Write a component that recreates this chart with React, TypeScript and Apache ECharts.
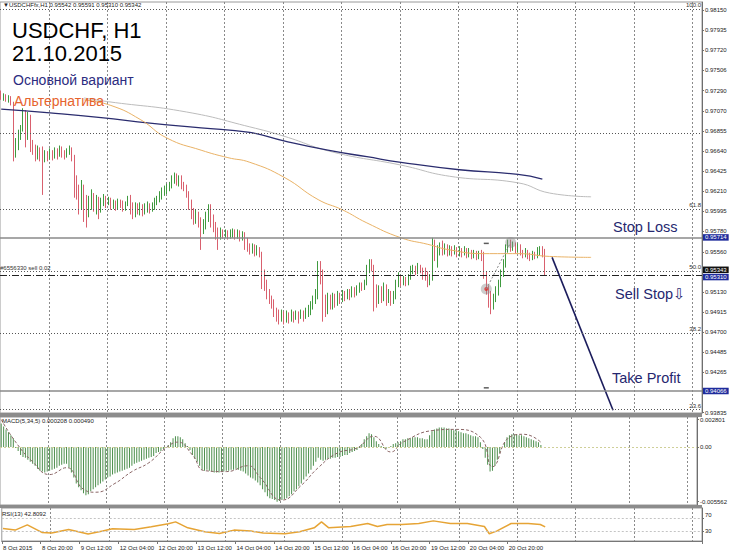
import React, { useEffect, useRef } from 'react';
import * as echarts from 'echarts';

// ---------- axis tick labels ----------
const tickLabels = ['8 Oct 2015', '8 Oct 20:00', '9 Oct 12:00', '12 Oct 04:00', '12 Oct 20:00', '13 Oct 12:00', '14 Oct 04:00', '14 Oct 20:00', '15 Oct 12:00', '16 Oct 04:00', '16 Oct 20:00', '19 Oct 12:00', '20 Oct 04:00', '20 Oct 20:00'];
const BARS_PER_LABEL = 16;
const SLOT_COUNT = 288;
const FIRST_MIDNIGHT = 20;
const BARS_PER_DAY = 24;

// price scale labels visible on the right axis (0.95345 and 0.94050 are covered by the price tags)
const priceTicks = [0.98150, 0.97935, 0.97720, 0.97506, 0.97290, 0.97070, 0.96855, 0.96640, 0.96425, 0.96210, 0.95995, 0.95780, 0.95560, 0.95130, 0.94915, 0.94700, 0.94485, 0.94265, 0.93835];
const macdTicks = [-0.005562, 0, 0.002801];
const rsiTicks = [0, 30, 70, 100];

// ---------- H1 candles: [open, close, high, low] ----------
const candles: number[][] = [
  [0.9724, 0.9721, 0.9729, 0.9719], [0.9721, 0.9723, 0.9726, 0.9718], [0.9723, 0.9719, 0.9725, 0.9717], [0.9719, 0.9721, 0.9724, 0.9716], [0.9721, 0.9715, 0.9723, 0.9713],
  [0.9715, 0.9665, 0.9717, 0.9653], [0.9665, 0.9671, 0.9678, 0.9657], [0.9671, 0.9682, 0.9687, 0.9665], [0.9682, 0.9689, 0.9692, 0.9676], [0.9689, 0.9703, 0.9710, 0.9685],
  [0.9703, 0.9682, 0.9708, 0.9668], [0.9682, 0.9700, 0.9706, 0.9676], [0.9700, 0.9671, 0.9703, 0.9663], [0.9671, 0.9665, 0.9676, 0.9660], [0.9665, 0.9657, 0.9671, 0.9653],
  [0.9657, 0.9665, 0.9670, 0.9655], [0.9665, 0.9660, 0.9668, 0.9653], [0.9663, 0.9655, 0.9669, 0.9617], [0.9655, 0.9660, 0.9665, 0.9652], [0.9660, 0.9657, 0.9664, 0.9653],
  [0.9657, 0.9661, 0.9667, 0.9655], [0.9661, 0.9658, 0.9665, 0.9654], [0.9658, 0.9663, 0.9668, 0.9656], [0.9663, 0.9660, 0.9667, 0.9655], [0.9660, 0.9665, 0.9670, 0.9658],
  [0.9665, 0.9662, 0.9669, 0.9657], [0.9662, 0.9659, 0.9665, 0.9655], [0.9659, 0.9663, 0.9667, 0.9657], [0.9663, 0.9665, 0.9670, 0.9660], [0.9665, 0.9657, 0.9668, 0.9653],
  [0.9657, 0.9633, 0.9660, 0.9614], [0.9633, 0.9617, 0.9638, 0.9612], [0.9617, 0.9612, 0.9628, 0.9596], [0.9612, 0.9623, 0.9633, 0.9601], [0.9623, 0.9607, 0.9628, 0.9588],
  [0.9607, 0.9599, 0.9617, 0.9582], [0.9599, 0.9612, 0.9616, 0.9593], [0.9612, 0.9616, 0.9623, 0.9601], [0.9616, 0.9607, 0.9619, 0.9599], [0.9607, 0.9612, 0.9617, 0.9596],
  [0.9612, 0.9601, 0.9615, 0.9591], [0.9601, 0.9609, 0.9614, 0.9598], [0.9609, 0.9614, 0.9618, 0.9605], [0.9614, 0.9610, 0.9616, 0.9603], [0.9610, 0.9612, 0.9615, 0.9606],
  [0.9612, 0.9607, 0.9614, 0.9601], [0.9607, 0.9609, 0.9612, 0.9602], [0.9609, 0.9606, 0.9611, 0.9600], [0.9606, 0.9610, 0.9613, 0.9601], [0.9610, 0.9608, 0.9612, 0.9603],
  [0.9608, 0.9603, 0.9611, 0.9599], [0.9603, 0.9607, 0.9610, 0.9600], [0.9607, 0.9612, 0.9616, 0.9605], [0.9612, 0.9601, 0.9617, 0.9596], [0.9601, 0.9597, 0.9609, 0.9591],
  [0.9597, 0.9606, 0.9609, 0.9593], [0.9606, 0.9601, 0.9608, 0.9596], [0.9601, 0.9605, 0.9609, 0.9595], [0.9605, 0.9599, 0.9607, 0.9594], [0.9599, 0.9602, 0.9608, 0.9596],
  [0.9602, 0.9606, 0.9610, 0.9598], [0.9606, 0.9601, 0.9608, 0.9597], [0.9601, 0.9605, 0.9609, 0.9599], [0.9605, 0.9610, 0.9614, 0.9601], [0.9610, 0.9612, 0.9616, 0.9606],
  [0.9612, 0.9616, 0.9621, 0.9609], [0.9616, 0.9621, 0.9625, 0.9612], [0.9621, 0.9623, 0.9627, 0.9616], [0.9623, 0.9625, 0.9629, 0.9618], [0.9625, 0.9627, 0.9631, 0.9621],
  [0.9627, 0.9633, 0.9638, 0.9624], [0.9633, 0.9639, 0.9641, 0.9629], [0.9639, 0.9631, 0.9640, 0.9627], [0.9631, 0.9636, 0.9638, 0.9626], [0.9636, 0.9628, 0.9638, 0.9623],
  [0.9628, 0.9625, 0.9631, 0.9621], [0.9625, 0.9617, 0.9628, 0.9614], [0.9617, 0.9607, 0.9621, 0.9601], [0.9607, 0.9599, 0.9612, 0.9591], [0.9599, 0.9593, 0.9603, 0.9585],
  [0.9593, 0.9596, 0.9601, 0.9586], [0.9596, 0.9588, 0.9599, 0.9582], [0.9588, 0.9580, 0.9593, 0.9558], [0.9580, 0.9585, 0.9591, 0.9575], [0.9585, 0.9596, 0.9599, 0.9580],
  [0.9596, 0.9605, 0.9607, 0.9588], [0.9605, 0.9591, 0.9607, 0.9582], [0.9591, 0.9582, 0.9596, 0.9577], [0.9582, 0.9578, 0.9588, 0.9569], [0.9578, 0.9572, 0.9582, 0.9558],
  [0.9572, 0.9578, 0.9582, 0.9569], [0.9578, 0.9575, 0.9580, 0.9570], [0.9575, 0.9577, 0.9580, 0.9571], [0.9577, 0.9573, 0.9579, 0.9569], [0.9573, 0.9576, 0.9580, 0.9570],
  [0.9576, 0.9578, 0.9581, 0.9571], [0.9578, 0.9573, 0.9580, 0.9569], [0.9573, 0.9577, 0.9580, 0.9570], [0.9577, 0.9571, 0.9579, 0.9567], [0.9571, 0.9575, 0.9578, 0.9568],
  [0.9575, 0.9569, 0.9577, 0.9558], [0.9569, 0.9561, 0.9571, 0.9556], [0.9561, 0.9558, 0.9565, 0.9553], [0.9558, 0.9562, 0.9565, 0.9554], [0.9562, 0.9556, 0.9564, 0.9551],
  [0.9556, 0.9558, 0.9563, 0.9552], [0.9558, 0.9553, 0.9561, 0.9550], [0.9553, 0.9532, 0.9556, 0.9516], [0.9532, 0.9521, 0.9537, 0.9514], [0.9521, 0.9510, 0.9526, 0.9505],
  [0.9510, 0.9505, 0.9516, 0.9500], [0.9505, 0.9500, 0.9509, 0.9495], [0.9500, 0.9492, 0.9505, 0.9486], [0.9492, 0.9489, 0.9496, 0.9481], [0.9489, 0.9486, 0.9494, 0.9478],
  [0.9486, 0.9490, 0.9494, 0.9481], [0.9490, 0.9484, 0.9492, 0.9478], [0.9484, 0.9488, 0.9493, 0.9480], [0.9488, 0.9485, 0.9491, 0.9479], [0.9485, 0.9489, 0.9494, 0.9481],
  [0.9489, 0.9486, 0.9492, 0.9480], [0.9486, 0.9490, 0.9493, 0.9483], [0.9490, 0.9487, 0.9492, 0.9479], [0.9487, 0.9491, 0.9494, 0.9484], [0.9491, 0.9488, 0.9493, 0.9481],
  [0.9488, 0.9492, 0.9496, 0.9484], [0.9492, 0.9494, 0.9499, 0.9486], [0.9494, 0.9500, 0.9503, 0.9488], [0.9500, 0.9505, 0.9509, 0.9494], [0.9505, 0.9509, 0.9516, 0.9500],
  [0.9509, 0.9542, 0.9546, 0.9505], [0.9542, 0.9532, 0.9546, 0.9521], [0.9532, 0.9505, 0.9537, 0.9481], [0.9505, 0.9494, 0.9510, 0.9486], [0.9494, 0.9505, 0.9512, 0.9489],
  [0.9505, 0.9500, 0.9510, 0.9494], [0.9500, 0.9507, 0.9512, 0.9494], [0.9507, 0.9503, 0.9511, 0.9496], [0.9503, 0.9509, 0.9514, 0.9498], [0.9509, 0.9505, 0.9512, 0.9500],
  [0.9505, 0.9510, 0.9515, 0.9502], [0.9510, 0.9507, 0.9514, 0.9503], [0.9507, 0.9511, 0.9516, 0.9505], [0.9511, 0.9509, 0.9516, 0.9504], [0.9509, 0.9515, 0.9519, 0.9507],
  [0.9515, 0.9511, 0.9518, 0.9507], [0.9511, 0.9516, 0.9520, 0.9509], [0.9516, 0.9520, 0.9523, 0.9512], [0.9520, 0.9518, 0.9523, 0.9514], [0.9518, 0.9523, 0.9526, 0.9515],
  [0.9523, 0.9537, 0.9542, 0.9520], [0.9537, 0.9545, 0.9548, 0.9533], [0.9545, 0.9539, 0.9548, 0.9535], [0.9539, 0.9516, 0.9542, 0.9492], [0.9516, 0.9505, 0.9521, 0.9496],
  [0.9505, 0.9514, 0.9520, 0.9500], [0.9514, 0.9507, 0.9519, 0.9501], [0.9507, 0.9518, 0.9523, 0.9503], [0.9518, 0.9505, 0.9521, 0.9498], [0.9505, 0.9510, 0.9516, 0.9501],
  [0.9510, 0.9503, 0.9514, 0.9498], [0.9503, 0.9509, 0.9514, 0.9500], [0.9509, 0.9521, 0.9526, 0.9505], [0.9521, 0.9529, 0.9534, 0.9518], [0.9529, 0.9523, 0.9531, 0.9519],
  [0.9523, 0.9526, 0.9530, 0.9520], [0.9526, 0.9522, 0.9529, 0.9519], [0.9522, 0.9529, 0.9532, 0.9520], [0.9529, 0.9535, 0.9541, 0.9526], [0.9535, 0.9537, 0.9542, 0.9532],
  [0.9537, 0.9534, 0.9541, 0.9531], [0.9534, 0.9539, 0.9544, 0.9532], [0.9539, 0.9536, 0.9542, 0.9533], [0.9536, 0.9532, 0.9539, 0.9526], [0.9532, 0.9531, 0.9539, 0.9525],
  [0.9531, 0.9524, 0.9535, 0.9518], [0.9524, 0.9529, 0.9532, 0.9520], [0.9529, 0.9564, 0.9571, 0.9525], [0.9564, 0.9553, 0.9569, 0.9546], [0.9553, 0.9558, 0.9563, 0.9539],
  [0.9558, 0.9564, 0.9566, 0.9552], [0.9564, 0.9556, 0.9568, 0.9552], [0.9556, 0.9561, 0.9565, 0.9553], [0.9561, 0.9555, 0.9564, 0.9551], [0.9555, 0.9560, 0.9563, 0.9552],
  [0.9560, 0.9556, 0.9562, 0.9551], [0.9556, 0.9558, 0.9563, 0.9553], [0.9558, 0.9554, 0.9561, 0.9550], [0.9554, 0.9557, 0.9562, 0.9551], [0.9557, 0.9555, 0.9560, 0.9550],
  [0.9555, 0.9558, 0.9562, 0.9552], [0.9558, 0.9553, 0.9560, 0.9549], [0.9553, 0.9556, 0.9560, 0.9550], [0.9556, 0.9552, 0.9558, 0.9548], [0.9552, 0.9555, 0.9558, 0.9549],
  [0.9555, 0.9551, 0.9557, 0.9547], [0.9551, 0.9554, 0.9557, 0.9548], [0.9554, 0.9552, 0.9558, 0.9546], [0.9552, 0.9532, 0.9556, 0.9527], [0.9532, 0.9516, 0.9535, 0.9510],
  [0.9516, 0.9505, 0.9520, 0.9496], [0.9505, 0.9500, 0.9514, 0.9489], [0.9500, 0.9507, 0.9511, 0.9494], [0.9507, 0.9514, 0.9519, 0.9502], [0.9514, 0.9521, 0.9526, 0.9509],
  [0.9521, 0.9532, 0.9537, 0.9518], [0.9532, 0.9542, 0.9548, 0.9529], [0.9542, 0.9558, 0.9564, 0.9539], [0.9558, 0.9565, 0.9569, 0.9555], [0.9565, 0.9561, 0.9569, 0.9556],
  [0.9561, 0.9564, 0.9567, 0.9557], [0.9564, 0.9558, 0.9566, 0.9554], [0.9558, 0.9562, 0.9565, 0.9555], [0.9562, 0.9556, 0.9564, 0.9552], [0.9556, 0.9553, 0.9558, 0.9549],
  [0.9553, 0.9556, 0.9560, 0.9550], [0.9556, 0.9552, 0.9558, 0.9548], [0.9552, 0.9550, 0.9555, 0.9546], [0.9550, 0.9554, 0.9557, 0.9547], [0.9554, 0.9551, 0.9556, 0.9548],
  [0.9551, 0.9556, 0.9561, 0.9549], [0.9556, 0.9558, 0.9562, 0.9552], [0.9558, 0.9553, 0.9562, 0.9550], [0.95542, 0.95342, 0.95591, 0.95310],
];

// ---------- moving averages (bar index, price) ----------
const maOrange = [[34, 0.9719], [45, 0.9713], [57, 0.9698], [68, 0.9678], [82, 0.9665], [93, 0.9657], [102, 0.9652], [116, 0.9636], [130, 0.9612], [140, 0.9601], [150, 0.9587], [164, 0.9571], [175, 0.9564], [184, 0.9558], [198, 0.9554], [212, 0.9554], [225, 0.9551], [242, 0.9550]];
const maNavy = [[0, 0.9709], [20, 0.9705], [41, 0.9700], [61, 0.9694], [82, 0.9689], [102, 0.9684], [116, 0.9675], [134, 0.9665], [150, 0.9658], [164, 0.9652], [188, 0.9644], [212, 0.9639], [222, 0.9634]];
const maGray = [[34, 0.9721], [44, 0.9717], [76, 0.9706], [102, 0.9690], [116, 0.9680], [136, 0.9663], [164, 0.9649], [184, 0.9637], [212, 0.9630], [225, 0.9619], [242, 0.9615]];

// ---------- levels ----------
const stopLoss = 0.95714;
const sellStop = 0.95310;
const takeProfit = 0.94066;
const bidPrice = 0.95343;
const fibNames = ['100.0', '', '61.8', '50.0', '38.2', '23.6'];
const fibPrices = [0.98161, 0.96835, 0.96014, 0.95352, 0.94688, 0.93867];
const orderText = '#6556330 sell 0.02';
const forecast = [[226, 0.9550], [251, 0.9386]];
const swingLow = [199, 0.9516];
const swingHigh = [209, 0.9566];
const dashMarks = [[199, 0.9565], [199, 0.9410]];

// ---------- MACD(5,34,5) ----------
const macdHist = [
  0.0024, 0.0021, 0.0018, 0.0015, 0.0012, 0.0009, -0.0001, -0.0004, -0.0008, -0.0010,
  -0.0011, -0.0013, -0.0015, -0.0017, -0.0019, -0.0022, -0.0024, -0.0025, -0.0026, -0.0025,
  -0.0024, -0.0023, -0.0022, -0.0021, -0.0019, -0.0018, -0.0017, -0.0017, -0.0021, -0.0026,
  -0.0031, -0.0037, -0.0041, -0.0044, -0.0047, -0.0049, -0.0048, -0.0045, -0.0043, -0.0041,
  -0.0039, -0.0037, -0.0035, -0.0033, -0.0031, -0.0030, -0.0028, -0.0027, -0.0026, -0.0025,
  -0.0024, -0.0023, -0.0022, -0.0021, -0.0019, -0.0017, -0.0016, -0.0015, -0.0014, -0.0013,
  -0.0012, -0.0011, -0.0010, -0.0009, -0.0006, -0.0005, -0.0004, -0.0002, -0.0001, 0.0002,
  0.0005, 0.0009, 0.0011, 0.0011, 0.0010, 0.0008, 0.0004, 0.0001, -0.0003, -0.0008,
  -0.0012, -0.0015, -0.0019, -0.0023, -0.0024, -0.0023, -0.0024, -0.0025, -0.0026, -0.0026,
  -0.0026, -0.0025, -0.0025, -0.0024, -0.0024, -0.0023, -0.0023, -0.0022, -0.0023, -0.0024,
  -0.0025, -0.0027, -0.0029, -0.0031, -0.0032, -0.0034, -0.0036, -0.0039, -0.0043, -0.0046,
  -0.0050, -0.0052, -0.0053, -0.0054, -0.005562, -0.0055, -0.0054, -0.0053, -0.0052, -0.0050,
  -0.0048, -0.0045, -0.0043, -0.0040, -0.0037, -0.0033, -0.0030, -0.0027, -0.0023, -0.0019,
  -0.0015, -0.0011, -0.0013, -0.0014, -0.0013, -0.0012, -0.0012, -0.0011, -0.0011, -0.0010,
  -0.0010, -0.0009, -0.0008, -0.0008, -0.0006, -0.0005, -0.0004, -0.0003, -0.0001, 0.0003,
  0.0008, 0.0011, 0.0014, 0.0013, 0.0010, 0.0006, 0.0003, 0.0001, -0.0001, -0.0002,
  -0.0001, 0.0001, 0.0003, 0.0004, 0.0005, 0.0006, 0.0008, 0.0008, 0.0009, 0.0009,
  0.0010, 0.0010, 0.0010, 0.0009, 0.0009, 0.0008, 0.0008, 0.0012, 0.0016, 0.0018,
  0.0019, 0.0020, 0.0020, 0.0020, 0.0019, 0.0019, 0.0018, 0.0017, 0.0017, 0.0016,
  0.0015, 0.0014, 0.0014, 0.0013, 0.0012, 0.0011, 0.0011, 0.0010, 0.0005, -0.0002,
  -0.0011, -0.0018, -0.0025, -0.0024, -0.0019, -0.0013, -0.0006, 0.0000, 0.0005, 0.0010,
  0.0012, 0.0013, 0.0013, 0.0013, 0.0012, 0.0012, 0.0011, 0.0010, 0.0009, 0.0008,
  0.0007, 0.0006, 0.0005, 0.000208,
];
const macdSignal = [[0, 0.002801], [6, 0.0005], [13, -0.0015], [20, -0.0028], [27, -0.0021], [34, -0.0043], [39, -0.0046], [47, -0.0037], [54, -0.0025], [61, -0.0016], [68, -0.0001], [73, 0.0005], [79, -0.0008], [84, -0.0024], [93, -0.0025], [102, -0.0019], [107, -0.0031], [116, -0.0054], [124, -0.0039], [131, -0.0021], [139, -0.0006], [147, -0.0001], [154, 0.0011], [161, -0.0005], [166, 0.0005], [179, 0.0017], [187, 0.0018], [198, 0.0010], [203, -0.0020], [210, 0.0010], [216, 0.0013], [223, 0.00049]];

// ---------- RSI(13) ----------
const rsi = [[0, 38], [5, 33], [10, 49], [16, 26], [20, 24], [27, 35], [35, 21], [41, 30], [45, 37], [54, 35], [61, 43], [68, 52], [71, 58], [76, 40], [83, 28], [89, 23], [95, 33], [102, 30], [107, 24], [116, 22], [122, 28], [128, 40], [131, 58], [134, 40], [143, 44], [150, 53], [154, 44], [158, 50], [164, 50], [171, 53], [177, 61], [184, 53], [191, 53], [198, 44], [200, 22], [203, 30], [209, 53], [216, 53], [221, 50], [223, 42.8092]];

const FONT = 'Liberation Sans, Arial, DejaVu Sans, sans-serif';
const NAVY_TEXT = '#25276f';
const CLEAR = 'rgba(0,0,0,0)';

export default function App() {
  const ref = useRef<HTMLDivElement>(null);

  useEffect(() => {
    if (!ref.current) return;
    const chart = echarts.init(ref.current, undefined, { renderer: 'svg' });

    const cats = Array.from({ length: SLOT_COUNT }, (_, i) => String(i));
    const labelInterval = (i: number) => i % BARS_PER_LABEL === 0 && i / BARS_PER_LABEL < tickLabels.length;
    const gridInterval = (i: number) => i >= FIRST_MIDNIGHT && (i - FIRST_MIDNIGHT) % BARS_PER_DAY === 0;

    const mkX = (gi: number, showLabels: boolean) => ({
      type: 'category', gridIndex: gi, data: cats, boundaryGap: true,
      axisLine: { show: showLabels, lineStyle: { color: '#777' } },
      axisTick: { show: showLabels, interval: labelInterval, length: 3, lineStyle: { color: '#777' } },
      axisLabel: {
        show: showLabels, interval: labelInterval, align: 'left', fontSize: 6, color: '#222', margin: 4, fontFamily: FONT,
        formatter: (_v: string, i: number) => tickLabels[i / BARS_PER_LABEL] ?? '',
      },
      splitLine: { show: true, interval: gridInterval, lineStyle: { color: '#8a8a8a', type: [2, 2], width: 1 } },
    });

    const yCommon = {
      type: 'value', position: 'right', splitLine: { show: false },
      axisLine: { show: true, lineStyle: { color: '#6e6e6e' } },
    };

    const last = candles[candles.length - 1];
    const header = `▼USDCHFfx,H1 ${last[0].toFixed(5)} ${last[2].toFixed(5)} ${last[3].toFixed(5)} ${last[1].toFixed(5)}`;
    const macdHeader = `MACD(5,34,5) ${macdHist[macdHist.length - 1].toFixed(6)} ${macdSignal[macdSignal.length - 1][1].toFixed(6)}`;
    const rsiHeader = `RSI(13) ${rsi[rsi.length - 1][1].toFixed(4)}`;

    const axisTag = (value: number, bg: string, line: any, dy = 0) => ({
      yAxis: value,
      lineStyle: line,
      label: {
        show: true, position: 'end', formatter: value.toFixed(5), color: '#fff', backgroundColor: bg,
        padding: [0, 2, 0, 2], lineHeight: 6.5, fontSize: 6, distance: 1, offset: [0, dy], fontFamily: FONT,
      },
    });

    const fibLines = fibPrices.map((p, k) => ({
      yAxis: p,
      lineStyle: { color: '#555', type: [1, 2], width: 1 },
      label: { show: fibNames[k] !== '', position: 'insideEndTop', formatter: fibNames[k], fontSize: 6, color: '#333', distance: 1, fontFamily: FONT },
    }));

    const option: any = {
      animation: false,
      backgroundColor: '#fff',
      textStyle: { fontFamily: FONT },
      grid: [
        { left: 0, right: 28, top: 2, height: 411, show: true, borderColor: '#9a9a9a', borderWidth: 1 },
        { left: 0, right: 28, top: 417, height: 88, show: true, borderColor: '#9a9a9a', borderWidth: 1 },
        { left: 0, right: 28, top: 508, height: 33, show: true, borderColor: '#9a9a9a', borderWidth: 1 },
      ],
      xAxis: [mkX(0, false), mkX(1, false), mkX(2, true)],
      yAxis: [
        {
          ...yCommon, gridIndex: 0, min: 0.9383, max: 0.9824,
          axisTick: { show: true, length: 2, customValues: priceTicks, lineStyle: { color: '#6e6e6e' } },
          axisLabel: { customValues: priceTicks, formatter: (v: number) => v.toFixed(5), fontSize: 6, color: '#1a1a1a', margin: 3, fontFamily: FONT },
        },
        {
          ...yCommon, gridIndex: 1, min: -0.0059, max: 0.00306,
          axisTick: { show: true, length: 2, customValues: macdTicks, lineStyle: { color: '#6e6e6e' } },
          axisLabel: { customValues: macdTicks, formatter: (v: number) => (v === 0 ? '0.00' : v.toFixed(6)), fontSize: 6, color: '#1a1a1a', margin: 3, fontFamily: FONT },
        },
        {
          ...yCommon, gridIndex: 2, min: 0, max: 100,
          axisTick: { show: true, length: 2, customValues: rsiTicks, lineStyle: { color: '#6e6e6e' } },
          axisLabel: {
            customValues: rsiTicks, fontSize: 6, color: '#1a1a1a', margin: 3, fontFamily: FONT,
            formatter: (v: number) => (v === 100 ? '{t|100}' : v === 70 ? '{u|70}' : v === 0 ? '{b|0}' : String(v)),
            rich: {
              t: { fontSize: 6, padding: [4, 0, 0, 0], color: '#1a1a1a' },
              u: { fontSize: 6, padding: [0, 0, 6, 0], color: '#1a1a1a' },
              b: { fontSize: 6, padding: [0, 0, 9, 0], color: '#1a1a1a' },
            },
          },
        },
      ],
      series: [
        {
          type: 'candlestick', xAxisIndex: 0, yAxisIndex: 0, barWidth: 1,
          data: candles.map(([o, c, h, l]) => [o, c, l, h]),
          itemStyle: { color: '#3f9a3f', color0: '#d9606e', borderColor: '#3f9a3f', borderColor0: '#d9606e', borderWidth: 1 },
        },
        { type: 'line', xAxisIndex: 0, yAxisIndex: 0, data: maGray, showSymbol: false, smooth: true, lineStyle: { color: '#bcbcbc', width: 1 } },
        { type: 'line', xAxisIndex: 0, yAxisIndex: 0, data: maNavy, showSymbol: false, smooth: true, lineStyle: { color: '#2a2c6e', width: 1.3 } },
        { type: 'line', xAxisIndex: 0, yAxisIndex: 0, data: maOrange, showSymbol: false, smooth: true, lineStyle: { color: '#e9b266', width: 1 } },
        {
          type: 'line', xAxisIndex: 0, yAxisIndex: 0, data: forecast, showSymbol: false, lineStyle: { color: '#1b1c5c', width: 1.6 },
          markLine: {
            symbol: ['none', 'none'], silent: true, animation: false, precision: 6,
            data: [
              ...fibLines,
              { yAxis: fibPrices[3], lineStyle: { color: CLEAR, width: 0 }, label: { show: true, position: 'insideStartTop', formatter: orderText, fontSize: 6, color: '#333', distance: 0, fontFamily: FONT } },
              axisTag(stopLoss, '#1f2c9c', { color: '#8a8a8a', type: 'solid', width: 1.5 }),
              axisTag(takeProfit, '#1f2c9c', { color: '#8a8a8a', type: 'solid', width: 1.5 }),
              axisTag(bidPrice, '#111', { color: CLEAR, width: 0 }, -2.2),
              axisTag(sellStop, '#1f2c9c', { color: '#222', type: [7, 2, 1, 2], width: 1 }, 2),
            ],
          },
        },
        { type: 'line', xAxisIndex: 0, yAxisIndex: 0, data: [swingLow, swingHigh], showSymbol: false, lineStyle: { color: '#888', width: 1, type: [2, 2] } },
        { type: 'scatter', xAxisIndex: 0, yAxisIndex: 0, data: [swingLow, swingHigh], symbol: 'circle', symbolSize: 11, itemStyle: { color: 'rgba(140,140,140,0.55)' } },
        { type: 'scatter', xAxisIndex: 0, yAxisIndex: 0, data: [swingLow], symbol: 'circle', symbolSize: 4, itemStyle: { color: '#e02a2a' } },
        { type: 'scatter', xAxisIndex: 0, yAxisIndex: 0, data: dashMarks, symbol: 'rect', symbolSize: [5, 1.5], itemStyle: { color: '#333' } },
        {
          type: 'bar', xAxisIndex: 1, yAxisIndex: 1, data: macdHist, barWidth: 1, itemStyle: { color: '#4d8f4d' },
          markLine: { symbol: ['none', 'none'], silent: true, animation: false, precision: 6, label: { show: false }, data: [{ yAxis: 0 }], lineStyle: { color: '#cfcf98', type: [2, 2], width: 1 } },
        },
        { type: 'line', xAxisIndex: 1, yAxisIndex: 1, data: macdSignal, showSymbol: false, smooth: true, lineStyle: { color: '#8a6565', width: 1, type: [3, 2] } },
        {
          type: 'line', xAxisIndex: 2, yAxisIndex: 2, data: rsi, showSymbol: false, lineStyle: { color: '#e6a435', width: 1.5 },
          markLine: { symbol: ['none', 'none'], silent: true, animation: false, precision: 6, label: { show: false }, data: [{ yAxis: 70 }, { yAxis: 30 }], lineStyle: { color: '#c4c4c4', type: [2, 2], width: 1 } },
        },
      ],
      graphic: [
        { type: 'rect', shape: { x: 0, y: 413, width: 702, height: 4 }, style: { fill: '#8c8c8c' }, z: 50 },
        { type: 'rect', shape: { x: 0, y: 505, width: 702, height: 3 }, style: { fill: '#8c8c8c' }, z: 50 },
        { type: 'text', x: 3, y: 5, z: 60, style: { text: header, fontSize: 6, fill: '#222', verticalAlign: 'middle', fontFamily: FONT } },
        { type: 'text', x: 12, y: 30, z: 60, style: { text: 'USDCHF, H1', fontSize: 22, lineHeight: 19, fill: '#000', verticalAlign: 'middle', fontFamily: FONT } },
        { type: 'text', x: 12, y: 53.5, z: 60, style: { text: '21.10.2015', fontSize: 22, lineHeight: 19, fill: '#000', verticalAlign: 'middle', fontFamily: FONT } },
        { type: 'text', x: 13, y: 79.5, z: 60, style: { text: 'Основной вариант', fontSize: 14, fill: '#2c2c80', verticalAlign: 'middle', fontFamily: FONT } },
        { type: 'text', x: 14, y: 100.5, z: 60, style: { text: 'Альтернатива', fontSize: 14, fill: '#e6642e', verticalAlign: 'middle', fontFamily: FONT } },
        { type: 'text', x: 613, y: 227, z: 60, style: { text: 'Stop Loss', fontSize: 14.5, fill: NAVY_TEXT, verticalAlign: 'middle', fontFamily: FONT } },
        { type: 'text', x: 615, y: 294, z: 60, style: { text: 'Sell Stop⇩', fontSize: 14.5, fill: NAVY_TEXT, verticalAlign: 'middle', fontFamily: FONT } },
        { type: 'text', x: 612, y: 378, z: 60, style: { text: 'Take Profit', fontSize: 14.5, fill: NAVY_TEXT, verticalAlign: 'middle', fontFamily: FONT } },
        { type: 'text', x: 2, y: 420.5, z: 60, style: { text: macdHeader, fontSize: 6, fill: '#222', verticalAlign: 'middle', fontFamily: FONT } },
        { type: 'text', x: 2, y: 514, z: 60, style: { text: rsiHeader, fontSize: 6, fill: '#222', verticalAlign: 'middle', fontFamily: FONT } },
      ],
    };

    chart.setOption(option);
    return () => chart.dispose();
  }, []);

  return <div ref={ref} style={{ position: 'fixed', left: 0, top: 0, width: 730, height: 554, background: '#fff' }} />;
}
